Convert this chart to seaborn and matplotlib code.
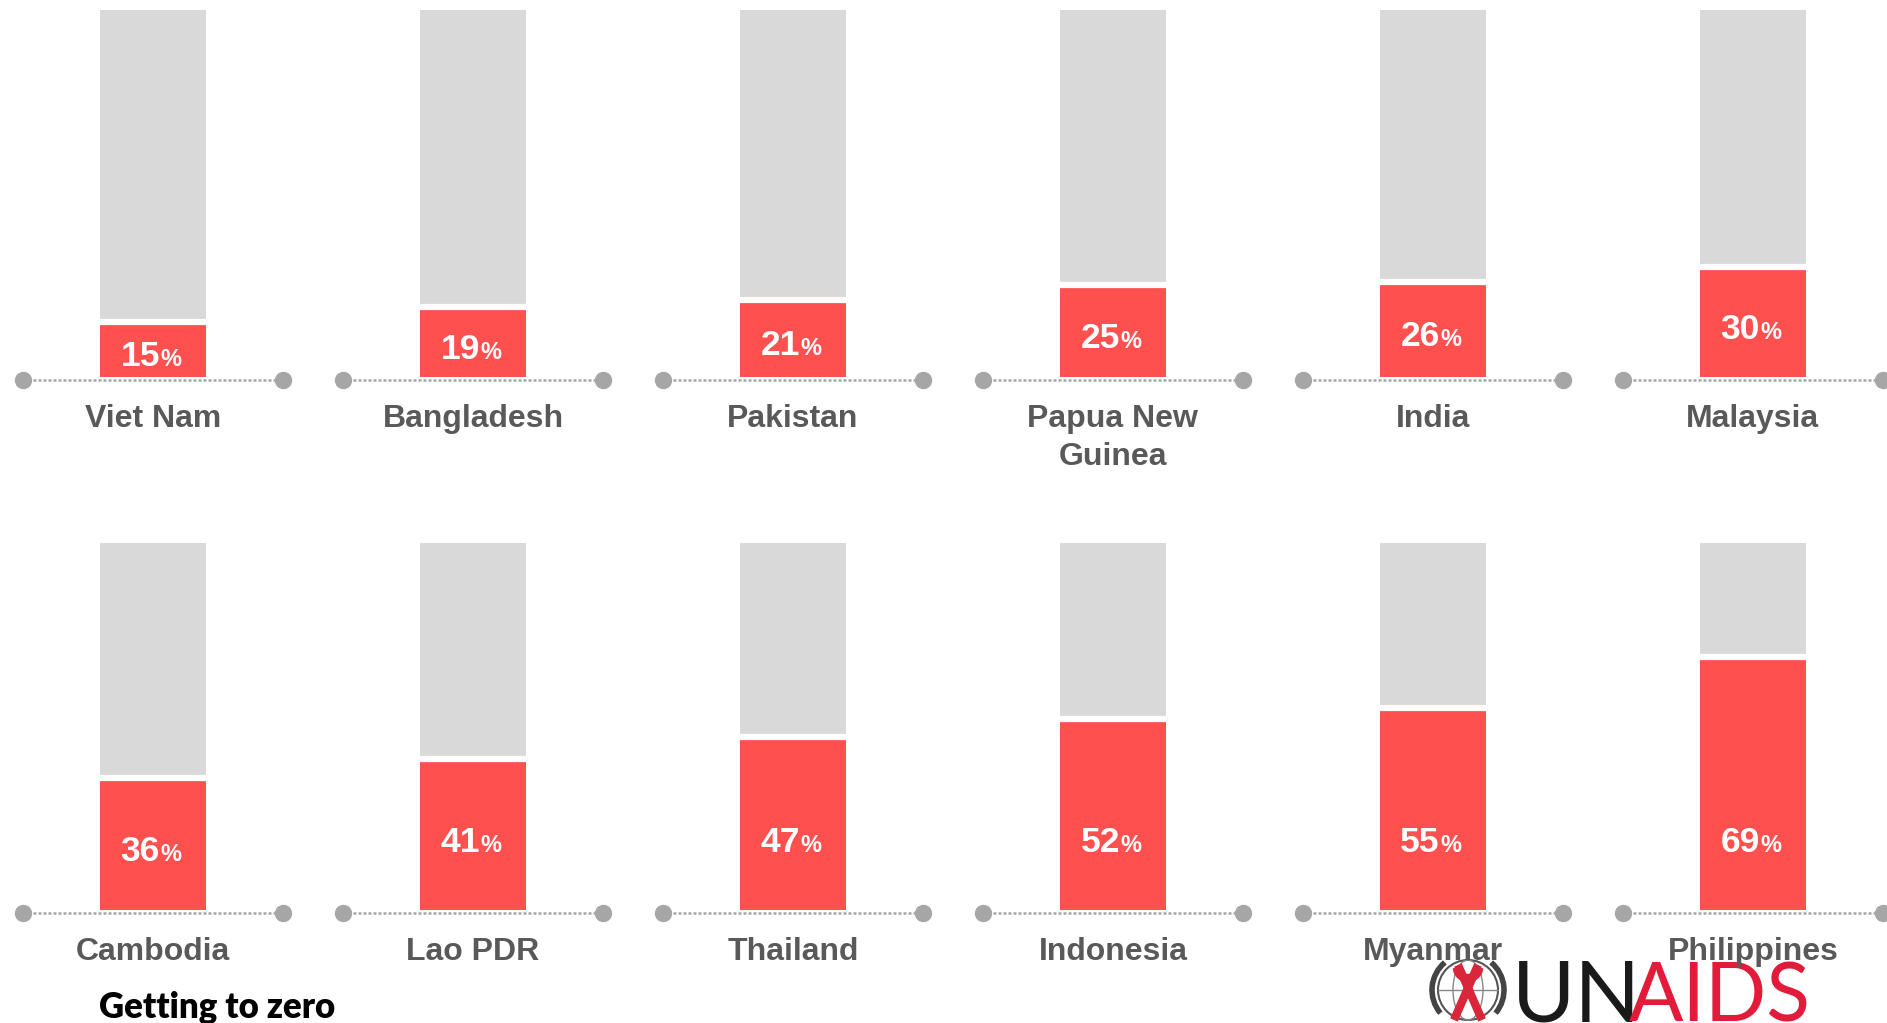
import matplotlib
matplotlib.use("Agg")
import matplotlib.pyplot as plt
from matplotlib.patches import Circle, Ellipse, Arc
import seaborn as sns

# Data
countries_top = ["Viet Nam", "Bangladesh", "Pakistan", "Papua New\nGuinea", "India", "Malaysia"]
values_top = [15, 19, 21, 25, 26, 30]
countries_bottom = ["Cambodia", "Lao PDR", "Thailand", "Indonesia", "Myanmar", "Philippines"]
values_bottom = [36, 41, 47, 52, 55, 69]
full_scale = [100] * 6

RED = "#ff5050"
GREY = "#d9d9d9"
DOT = "#a6a6a6"
LABEL = "#595959"

sns.set_style("white")
plt.rcParams["font.family"] = ["Liberation Sans", "DejaVu Sans"]

W, H = 1887, 1023
fig = plt.figure(figsize=(W / 100, H / 100), dpi=100)

# logo layer in pixel coordinates, behind the charts
ax_logo = fig.add_axes([0, 0, 1, 1], zorder=0)
ax_logo.set_xlim(0, W)
ax_logo.set_ylim(H, 0)
ax_logo.axis("off")


def draw_row(ax, countries, values):
    sns.barplot(x=countries, y=full_scale, order=countries, color=GREY, saturation=1,
                width=0.331, errorbar=None, linewidth=0, ax=ax)
    sns.barplot(x=countries, y=values, order=countries, color=RED, saturation=1,
                width=0.331, errorbar=None, linewidth=0, ax=ax)
    red_bars = ax.patches[len(countries):]
    for p in red_bars:
        x0, x1 = p.get_x(), p.get_x() + p.get_width()
        ax.plot([x0, x1], [p.get_height()] * 2, color="white", lw=4.5,
                solid_capstyle="butt", zorder=5)
    for i, (c, v) in enumerate(zip(countries, values)):
        ax.plot([i - 0.406, i + 0.406], [-0.8, -0.8], ls=(0, (1.2, 0.8)), lw=1.8,
                color=DOT, zorder=3)
        ax.plot([i - 0.406, i + 0.406], [-0.8, -0.8], ls="none", marker="o",
                ms=11.5, color=DOT, clip_on=False, zorder=4)
        ax.text(i, -7.3, c, ha="center", va="top", fontsize=23, fontweight="bold",
                color=LABEL, linespacing=1.35, zorder=6)
        ly = min(v / 2 - 1.2, 19.3)
        ax.annotate(f"{v}", (i, ly), xytext=(5, -9), textcoords="offset points",
                    ha="right", va="baseline", fontsize=25.5, fontweight="bold",
                    color="white", zorder=6)
        ax.annotate("%", (i, ly), xytext=(5.5, -9), textcoords="offset points",
                    ha="left", va="baseline", fontsize=17, fontweight="bold",
                    color="white", zorder=6)
    ax.set_xlim(-0.478, 5.419)
    ax.axis("off")
    ax.patch.set_alpha(0)


# top row: pixel rows 0..500, bar bottom at 377, top at 10
ax_top = fig.add_axes([0, 1 - 500 / H, 1, 500 / H], zorder=2)
draw_row(ax_top, countries_top, values_top)
ax_top.set_ylim(-33.5, 102.7)

# bottom row: pixel rows 500..1023, bar bottom at 910, top at 543
ax_bot = fig.add_axes([0, 0, 1, 523 / H], zorder=2)
draw_row(ax_bot, countries_bottom, values_bottom)
ax_bot.set_ylim(-30.8, 111.7)

# footer text
fig.text(99 / W, 1 - 1007 / H, "Getting to zero", ha="left", va="center",
         fontsize=25, fontweight="heavy", color="black", family=["Lato", "DejaVu Sans"])

# UNAIDS logo (approximation)
gc_x, gc_y, gr = 1468, 990, 30
ax_logo.add_patch(Circle((gc_x, gc_y), gr, fill=False, ec="#555555", lw=1.5))
ax_logo.add_patch(Ellipse((gc_x, gc_y), gr, 2 * gr, fill=False, ec="#888888", lw=1))
ax_logo.plot([gc_x - gr, gc_x + gr], [gc_y, gc_y], color="#888888", lw=1)
ax_logo.add_patch(Arc((gc_x, gc_y), 2 * gr + 12, 2 * gr + 12, theta1=140, theta2=230,
                      ec="#444444", lw=4))
ax_logo.add_patch(Arc((gc_x, gc_y), 2 * gr + 12, 2 * gr + 12, theta1=-50, theta2=40,
                      ec="#444444", lw=4))
ax_logo.plot([gc_x - 14, gc_x + 10], [1020, 965], color="#d9263a", lw=6, solid_capstyle="butt")
ax_logo.plot([gc_x + 14, gc_x - 10], [1020, 965], color="#d9263a", lw=6, solid_capstyle="butt")
ax_logo.add_patch(Arc((gc_x, 968), 22, 20, theta1=0, theta2=180, ec="#d9263a", lw=6))
ax_logo.text(1512, 1021, "UN", ha="left", va="baseline", fontsize=62, color="#1a1a1a",
             family=["Lato", "DejaVu Sans"], fontweight="normal")
ax_logo.text(1629, 1021, "AIDS", ha="left", va="baseline", fontsize=58, color="#e31b3a",
             family=["Lato", "DejaVu Sans"], fontweight="normal")

fig.savefig("out.png", dpi=100)
